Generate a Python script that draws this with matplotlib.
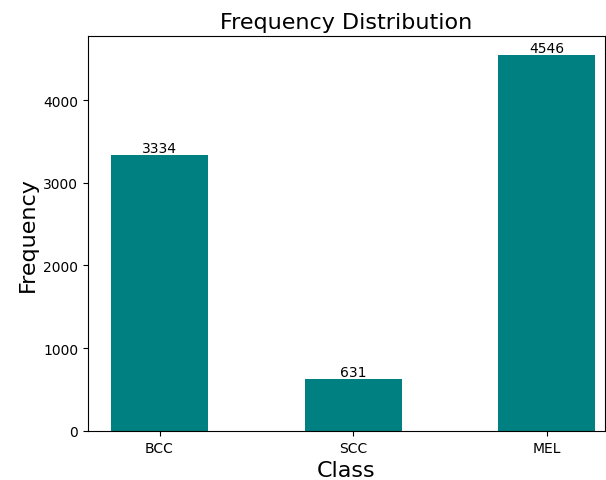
import matplotlib
matplotlib.use("Agg")
import matplotlib.pyplot as plt

classes = ["BCC", "SCC", "MEL"]
counts = [3334, 631, 4546]

fig = plt.figure(figsize=(6.06, 4.81), dpi=100)
ax = fig.add_axes([0.145, 0.102, 0.853, 0.821])

bars = ax.bar(range(len(classes)), counts, width=0.5, color="teal")
ax.bar_label(bars, labels=[str(c) for c in counts], fontsize=10)

ax.set_xticks(range(len(classes)))
ax.set_xticklabels(classes)
ax.set_xlim(-0.37, 2.3)
ax.set_title("Frequency Distribution", fontsize=16)
ax.set_xlabel("Class", fontsize=16)
ax.set_ylabel("Frequency", fontsize=16)

fig.savefig("out.png", dpi=100)
